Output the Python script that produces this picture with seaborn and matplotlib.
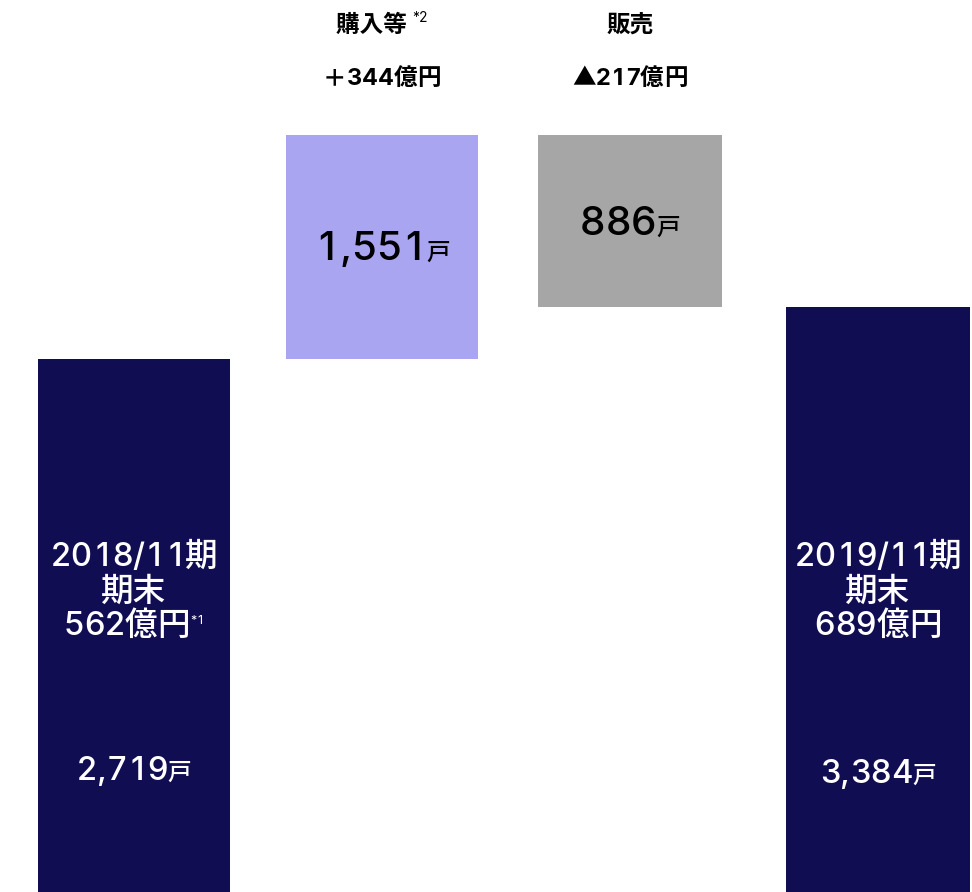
import matplotlib
matplotlib.use("Agg")
import matplotlib.pyplot as plt
import seaborn as sns
import pandas as pd

# waterfall steps (drawn in the chart's own schematic height units)
steps = ["2018/11期末", "購入等", "販売", "2019/11期末"]
start = [0, 533, 757, 0]
end = [533, 757, 585, 585]
colors = ["#110d52", "#a9a5f0", "#a6a6a6", "#110d52"]

units = ["2,719", "1,551", "886", "3,384"]
amounts = ["562億円", "344億円", "217億円", "689億円"]
signs = ["", "＋", "▲", ""]
periods = ["2018/11期", "", "", "2019/11期"]
notes = ["*1", "*2", "", ""]

sns.set_theme(style="white")
LATIN = ["Inter", "Noto Sans CJK JP", "DejaVu Sans"]
CJK = ["Noto Sans CJK JP", "DejaVu Sans"]
plt.rcParams["font.family"] = LATIN

df = pd.DataFrame({"step": steps,
                   "bottom": [min(a, b) for a, b in zip(start, end)],
                   "height": [abs(b - a) for a, b in zip(start, end)]})

fig = plt.figure(figsize=(9.72, 8.92), dpi=100)
ax = fig.add_axes([0, 0, 1, 1])
sns.barplot(data=df, x="step", y="height", bottom=df["bottom"].values,
            width=0.774, color=colors[0], ax=ax, linewidth=0)
bar_w = [192, 192, 184, 184]
for p, c, w in zip(ax.patches, colors, bar_w):
    cx = p.get_x() + p.get_width() / 2
    p.set_width(w / 248)
    p.set_x(cx - w / 248 / 2)
    p.set_facecolor(c)
    p.set_edgecolor(c)

ax.set_xlim(-134 / 248, (972 - 134) / 248)
ax.set_ylim(0, 892)
ax.axis("off")

fig.canvas.draw()
renderer = fig.canvas.get_renderer()
px = 1 / 248  # one pixel in category units
TAB = 0.62    # digit cell width in em (tabular figures like the original)


def row(x, y, pieces, color):
    # pieces: (text, size, weight, family, rise) laid out left to right, centred on x
    glyphs = []
    for s, size, weight, fam, rise in pieces:
        chars = list(s) if fam is LATIN else [s]
        for ch in chars:
            t = ax.text(x, y + rise, ch, ha="left", va="baseline",
                        fontsize=size, fontweight=weight, family=fam,
                        color=color)
            w = t.get_window_extent(renderer).width if ch.strip() else size * 0.3
            cell = max(w, TAB * size * 100 / 72) if ch.isdigit() else w
            glyphs.append((t, w, cell))
    left = x - sum(g[2] for g in glyphs) / 2 * px
    for t, w, cell in glyphs:
        t.set_x(left + (cell - w) / 2 * px)
        left += cell * px


# top labels for the moving steps
row(1, 860, [("購入等 ", 17, "bold", CJK, 0), (notes[1], 10, "normal", LATIN, 10)], "black")
row(2, 860, [(steps[2], 17, "bold", CJK, 0)], "black")
for i in (1, 2):
    row(i, 807, [(signs[i], 17, "bold", CJK, 0), (amounts[i], 17, "bold", LATIN, 0)],
        "black")

# unit counts inside floating bars
row(1, 632, [(units[1], 29, "medium", LATIN, 0), ("戸", 17, "medium", CJK, 0)], "black")
row(2, 657, [(units[2], 29, "medium", LATIN, 0), ("戸", 17, "medium", CJK, 0)], "black")

# end bars
for i in (0, 3):
    row(i, 326, [(periods[i], 23.5, "medium", LATIN, 0)], "white")
    row(i, 291, [("期末", 23.5, "medium", CJK, 0)], "white")
    row(i, 257, [(amounts[i], 23.5, "medium", LATIN, 0),
                 (notes[i], 9, "normal", LATIN, 11)], "white")
    row(i, 112 if i == 0 else 109,
        [(units[i], 23.5, "medium", LATIN, 0), ("戸", 17, "medium", CJK, 0)], "white")

fig.savefig("out.png", dpi=100)
